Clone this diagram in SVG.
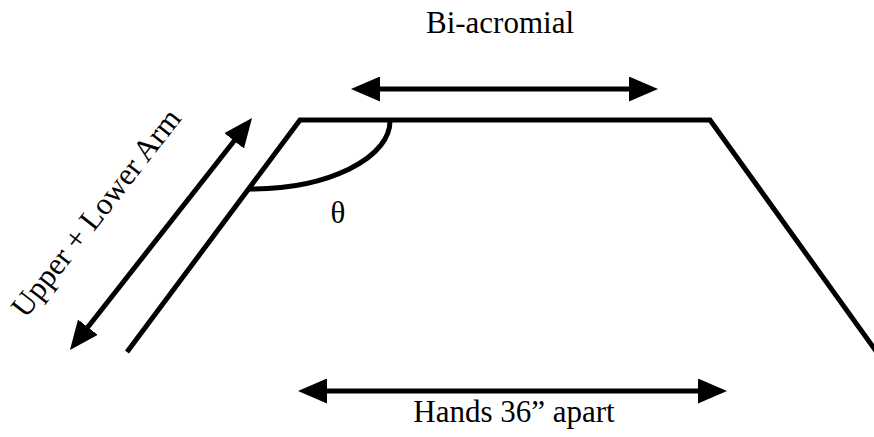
<svg xmlns="http://www.w3.org/2000/svg" width="874" height="437" viewBox="0 0 874 437">
<style>
.ln{fill:none;stroke:#000;stroke-width:5;stroke-linejoin:miter}
.ar{fill:none;stroke:#000;stroke-width:5}
.t{font-family:"Liberation Serif","Times New Roman",serif;font-size:31px;fill:#000}
</style>
<defs>
<marker id="ah" viewBox="0 0 29 25" refX="4" refY="12.5" markerWidth="29" markerHeight="25" markerUnits="userSpaceOnUse" orient="auto-start-reverse">
<path d="M0,0 L29,12.5 L0,25 Z" fill="#000"/>
</marker>
</defs>
<rect width="874" height="437" fill="#fff"/>
<g id="frame">
<path class="ln" d="M127,352 L300,120 L710,120 L876,351"/>
<path class="ln" d="M390,120 A140 68 0 0 1 249,189"/>
</g>
<g id="connectors">
<line class="ar" x1="376" y1="89" x2="633" y2="89" marker-start="url(#ah)" marker-end="url(#ah)"/>
<line class="ar" x1="323" y1="391" x2="702" y2="391" marker-start="url(#ah)" marker-end="url(#ah)"/>
<line class="ar" x1="85.4" y1="330.3" x2="236.6" y2="137.7" marker-start="url(#ah)" marker-end="url(#ah)"/>
</g>
<g id="label-biacromial"><text class="t" x="500" y="33" text-anchor="middle">Bi-acromial</text></g>
<g id="label-theta"><text class="t" x="338" y="223" text-anchor="middle">θ</text></g>
<g id="label-hands"><text class="t" x="514" y="422" text-anchor="middle">Hands 36” apart</text></g>
<g id="label-arm"><text class="t" transform="translate(104,219) rotate(-52)" text-anchor="middle">Upper + Lower Arm</text></g>
</svg>
